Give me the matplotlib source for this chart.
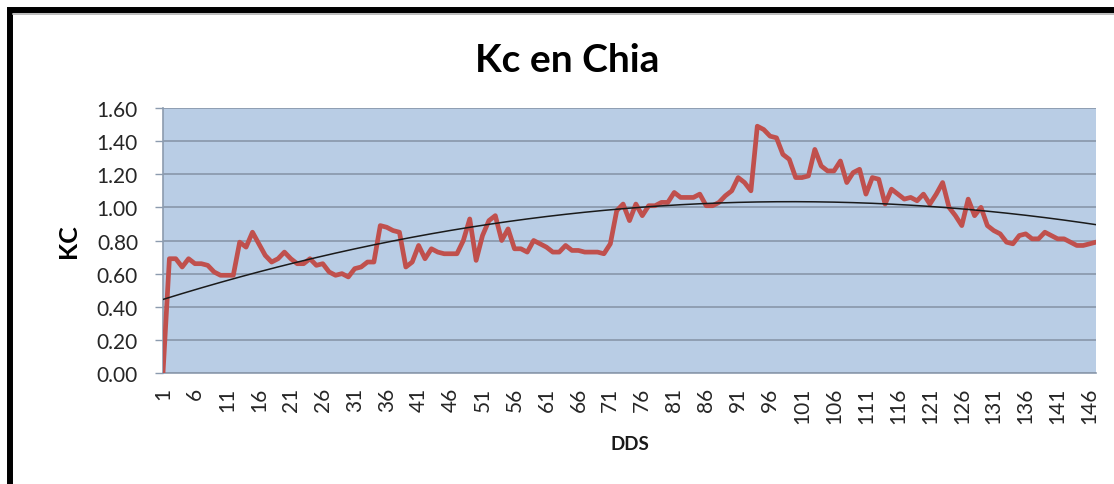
import numpy as np
import matplotlib
matplotlib.use("Agg")
import matplotlib.pyplot as plt
from matplotlib.patches import Rectangle
from matplotlib.lines import Line2D

plt.rcParams['font.family'] = ['Lato', 'DejaVu Sans']

# Kc per day after sowing (DDS)
days = list(range(1, 148))
kc = [0.00, 0.69, 0.69, 0.64, 0.69, 0.66, 0.66, 0.65, 0.61, 0.59,
      0.59, 0.59, 0.79, 0.76, 0.85, 0.78, 0.71, 0.67, 0.69, 0.73,
      0.69, 0.66, 0.66, 0.69, 0.65, 0.66, 0.61, 0.59, 0.60, 0.58,
      0.63, 0.64, 0.67, 0.67, 0.89, 0.88, 0.86, 0.85, 0.64, 0.67,
      0.77, 0.69, 0.75, 0.73, 0.72, 0.72, 0.72, 0.80, 0.93, 0.68,
      0.83, 0.92, 0.95, 0.80, 0.87, 0.75, 0.75, 0.73, 0.80, 0.78,
      0.76, 0.73, 0.73, 0.77, 0.74, 0.74, 0.73, 0.73, 0.73, 0.72,
      0.78, 0.98, 1.02, 0.92, 1.02, 0.95, 1.01, 1.01, 1.03, 1.03,
      1.09, 1.06, 1.06, 1.06, 1.08, 1.01, 1.01, 1.03, 1.07, 1.10,
      1.18, 1.15, 1.10, 1.49, 1.47, 1.43, 1.42, 1.32, 1.29, 1.18,
      1.18, 1.19, 1.35, 1.25, 1.22, 1.22, 1.28, 1.15, 1.21, 1.23,
      1.08, 1.18, 1.17, 1.02, 1.11, 1.08, 1.05, 1.06, 1.04, 1.08,
      1.02, 1.08, 1.15, 1.00, 0.95, 0.89, 1.05, 0.95, 1.00, 0.89,
      0.86, 0.84, 0.79, 0.78, 0.83, 0.84, 0.81, 0.81, 0.85, 0.83,
      0.81, 0.81, 0.79, 0.77, 0.77, 0.78, 0.79]
x_ticks = list(range(1, 148, 5))
y_ticks = [0.0, 0.2, 0.4, 0.6, 0.8, 1.0, 1.2, 1.4, 1.6]

W, H = 1114, 485
fig = plt.figure(figsize=(W / 100, H / 100), dpi=100)
ax = fig.add_axes([163 / W, 1 - 374 / H, (1096 - 163) / W, (374 - 109) / H])
ax.set_facecolor("#B9CDE5")

# polynomial trendline (order 2), as the spreadsheet does
coef = np.polyfit(days, kc, 2)
trend = np.polyval(coef, days)

ax.plot(days, kc, color="#C0504D", lw=3.4, solid_joinstyle="round", zorder=3)
ax.plot(days, trend, color="#1a1a1a", lw=1.1, zorder=4)

ax.set_xlim(1, 147)
ax.set_ylim(0, 1.6)
ax.set_yticks(y_ticks)
ax.set_yticklabels(["%.2f" % v for v in y_ticks])
ax.set_xticks(x_ticks)
ax.set_xticklabels([str(v) for v in x_ticks], rotation=90)
ax.yaxis.grid(True, color="#8C9BAE", lw=1.3)
ax.set_axisbelow(True)

ax.tick_params(axis="y", length=6, width=1, color="#8C9BAE", pad=12,
               labelsize=15, labelcolor="#262626")
ax.tick_params(axis="x", length=0, pad=10, labelsize=15, labelcolor="#262626")
for side in ["top", "right"]:
    ax.spines[side].set_visible(False)
for side in ["left", "bottom"]:
    ax.spines[side].set_color("#8C9BAE")
    ax.spines[side].set_linewidth(1.2)

fig.text(567 / W, 1 - 60 / H, "Kc en Chia", ha="center", va="center",
         fontsize=28, fontweight="bold", color="black")
fig.text(68 / W, 1 - 241 / H, "KC", ha="center", va="center", rotation=90,
         fontsize=18, fontweight="bold", color="black")
fig.text(630 / W, 1 - 445 / H, "DDS", ha="center", va="center",
         fontsize=13.5, fontweight="bold", color="#1a1a1a")

# black frame round the chart (only top and left show)
fig.patches.append(Rectangle((10 / W, -0.5), 2, 1 - 10.5 / H + 0.5,
                             transform=fig.transFigure, fill=False,
                             edgecolor="black", lw=4.3))
fig.lines.append(Line2D([13 / W, 1], [1 - 14.5 / H, 1 - 14.5 / H],
                        transform=fig.transFigure, color="#b0b0b0", lw=1.2))

plt.savefig("out.png", dpi=100)
plt.close(fig)
